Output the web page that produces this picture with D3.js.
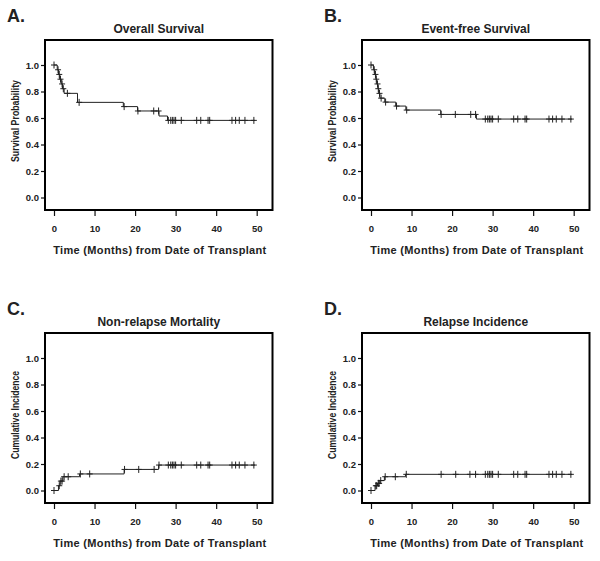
<!DOCTYPE html>
<html>
<head>
<meta charset="utf-8">
<script src="https://cdn.jsdelivr.net/npm/d3@7/dist/d3.min.js"></script>
<style>
  html, body { margin: 0; padding: 0; background: #fff; }
  svg { display: block; }
  text { font-family: "Liberation Sans", Arial, sans-serif; font-weight: bold; fill: #222; }
</style>
</head>
<body>
<svg id="chart" width="600" height="561"></svg>
<script>
// ---------- data ----------
const xTicks = [0, 10, 20, 30, 40, 50];
const yTicks = [0.0, 0.2, 0.4, 0.6, 0.8, 1.0];
const panelLetters = ["A.", "B.", "C.", "D."];
const panelTitles = ["Overall Survival", "Event-free Survival", "Non-relapse Mortality", "Relapse Incidence"];
const yLabels = ["Survival Probability", "Survival Probability", "Cumulative Incidence", "Cumulative Incidence"];
const xLabel = "Time (Months) from Date of Transplant";

const lateCensor = [28.2, 28.8, 29.2, 29.6, 30.0, 31.4, 35.2, 36.2, 38.0, 38.4, 43.9, 44.8, 45.7, 47.1, 49.3];

// A. Overall survival
const osTime = [0, 0.8, 1.1, 1.4, 1.8, 2.1, 2.5, 5.8, 17.1, 20.6, 25.9, 28.0, 49.6];
const osValue = [1.0, 0.964, 0.929, 0.893, 0.857, 0.821, 0.786, 0.718, 0.686, 0.653, 0.615, 0.582, 0.582];
const osCensor = [0, 1.0, 1.3, 1.6, 2.0, 2.3, 3.3, 6.2, 17.3, 20.7, 24.6, 25.8];

// B. Event-free survival
const efsTime = [0, 0.6, 0.9, 1.2, 1.4, 1.7, 1.9, 2.2, 3.4, 6.1, 8.6, 17.2, 26.0, 49.6];
const efsValue = [1.0, 0.964, 0.929, 0.893, 0.857, 0.821, 0.786, 0.75, 0.72, 0.69, 0.66, 0.627, 0.592, 0.592];
const efsCensor = [0, 0.8, 1.1, 1.3, 1.6, 1.8, 2.1, 2.5, 3.6, 6.3, 8.8, 17.3, 20.8, 24.6, 25.8];

// C. Non-relapse mortality
const nrmTime = [0, 1.1, 1.5, 2.2, 6.3, 17.3, 25.8, 49.6];
const nrmValue = [0, 0.036, 0.071, 0.104, 0.125, 0.159, 0.192, 0.192];
const nrmCensor = [0, 1.3, 1.7, 2.0, 2.5, 3.5, 6.5, 8.8, 17.4, 20.9, 24.7, 25.9];

// D. Relapse incidence
const riTime = [0, 1.0, 1.6, 2.2, 3.3, 8.5, 49.6];
const riValue = [0, 0.036, 0.054, 0.075, 0.104, 0.122, 0.122];
const riCensor = [0, 1.2, 1.4, 1.8, 2.0, 2.4, 3.5, 6.0, 8.7, 17.3, 20.9, 24.4, 25.8];

const series = [
  { t: osTime, v: osValue, c: osCensor.concat(lateCensor) },
  { t: efsTime, v: efsValue, c: efsCensor.concat(lateCensor) },
  { t: nrmTime, v: nrmValue, c: nrmCensor.concat(lateCensor) },
  { t: riTime, v: riValue, c: riCensor.concat(lateCensor) }
];

// ---------- layout ----------
const offsets = [[0, 0], [317, 0], [0, 293], [317, 293]];
const frame = { left: 45, right: 272.5, top: 40, bottom: 210 };
const yLabelLen = [82, 82, 88, 88];

const x = d3.scaleLinear().domain([0, 50]).range([54, 256.7]);
const y = d3.scaleLinear().domain([0, 1]).range([197.5, 65]);

const svg = d3.select("#chart");

series.forEach((s, i) => {
  const g = svg.append("g").attr("transform", `translate(${offsets[i][0]},${offsets[i][1]})`);

  // panel letter
  g.append("text").attr("x", 7).attr("y", 22).style("font-size", "18px").text(panelLetters[i]);
  // title
  g.append("text").attr("x", (frame.left + frame.right) / 2).attr("y", 33)
    .attr("text-anchor", "middle").style("font-size", "12px").text(panelTitles[i]);

  // axes
  const yAxis = d3.axisLeft(y).tickValues(yTicks).tickFormat(d3.format(".1f")).tickSize(4).tickPadding(2);
  const ya = g.append("g").attr("transform", `translate(${frame.left},0)`).call(yAxis);
  ya.select(".domain").remove();
  ya.selectAll("line").attr("stroke", "#111").attr("stroke-width", 1.2);
  ya.selectAll("text").style("font-size", "9.5px").style("font-family", "Liberation Sans, Arial, sans-serif").attr("fill", "#222");

  const xAxis = d3.axisBottom(x).tickValues(xTicks).tickFormat(d3.format("d")).tickSize(6).tickPadding(9);
  const xa = g.append("g").attr("transform", `translate(0,${frame.bottom})`).call(xAxis);
  xa.select(".domain").remove();
  xa.selectAll("line").attr("stroke", "#111").attr("stroke-width", 1.2);
  xa.selectAll("text").style("font-size", "9.5px").style("font-family", "Liberation Sans, Arial, sans-serif").attr("fill", "#222");

  // frame
  g.append("rect").attr("x", frame.left).attr("y", frame.top)
    .attr("width", frame.right - frame.left).attr("height", frame.bottom - frame.top)
    .attr("fill", "none").attr("stroke", "#000").attr("stroke-width", 2);

  // axis labels
  g.append("text").attr("x", (frame.left + frame.right) / 2 + 1).attr("y", 254)
    .attr("text-anchor", "middle").style("font-size", "11px")
    .attr("textLength", 213).attr("lengthAdjust", "spacing").text(xLabel);
  g.append("text").attr("transform", `translate(19,${i < 2 ? 121 : 122}) rotate(-90)`)
    .attr("text-anchor", "middle").style("font-size", "10.5px")
    .attr("textLength", yLabelLen[i]).attr("lengthAdjust", "spacingAndGlyphs").text(yLabels[i]);

  // step curve
  const pts = s.t.map((t, k) => [t, s.v[k]]);
  const line = d3.line().x(d => x(d[0])).y(d => y(d[1])).curve(d3.curveStepAfter);
  g.append("path").attr("d", line(pts)).attr("fill", "none").attr("stroke", "#222").attr("stroke-width", 1);

  // censor marks
  const valueAt = t => {
    let v = s.v[0];
    for (let k = 0; k < s.t.length; k++) { if (s.t[k] <= t) v = s.v[k]; }
    return v;
  };
  const cg = g.append("g").attr("stroke", "#222").attr("stroke-width", 1);
  s.c.forEach(t => {
    const cx = x(t), cy = y(valueAt(t));
    cg.append("line").attr("x1", cx).attr("x2", cx).attr("y1", cy - 3.5).attr("y2", cy + 3.5);
    cg.append("line").attr("x1", cx - 3).attr("x2", cx + 3).attr("y1", cy).attr("y2", cy);
  });
});
</script>
</body>
</html>
